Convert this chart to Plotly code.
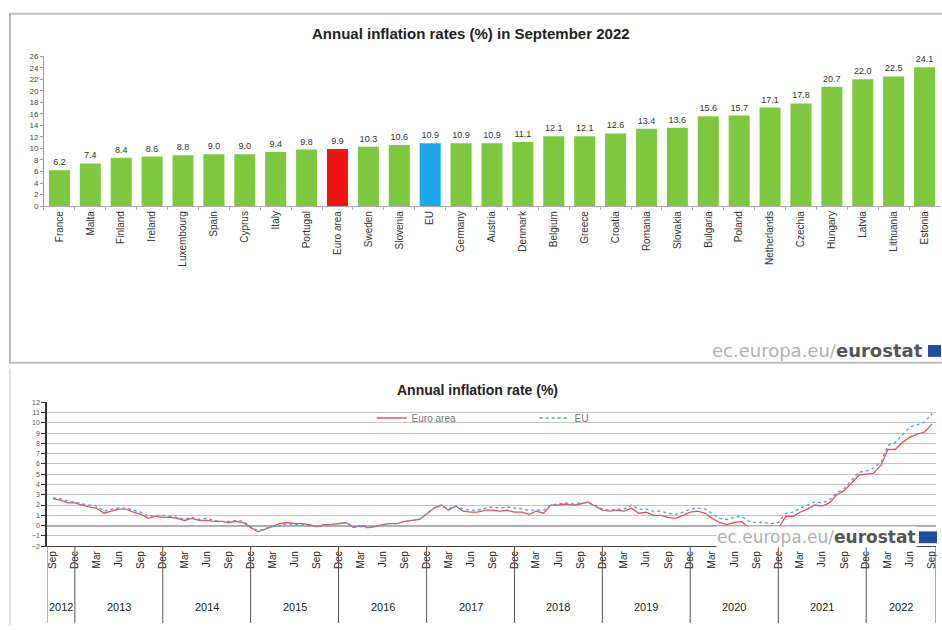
import plotly.graph_objects as go
import pandas as pd

# ---------------- data ----------------
countries = ["France", "Malta", "Finland", "Ireland", "Luxembourg", "Spain", "Cyprus", "Italy",
             "Portugal", "Euro area", "Sweden", "Slovenia", "EU", "Germany", "Austria", "Denmark",
             "Belgium", "Greece", "Croatia", "Romania", "Slovakia", "Bulgaria", "Poland",
             "Netherlands", "Czechia", "Hungary", "Latvia", "Lithuania", "Estonia"]
rates_sep2022 = [6.2, 7.4, 8.4, 8.6, 8.8, 9.0, 9.0, 9.4, 9.8, 9.9, 10.3, 10.6, 10.9, 10.9, 10.9,
                 11.1, 12.1, 12.1, 12.6, 13.4, 13.6, 15.6, 15.7, 17.1, 17.8, 20.7, 22.0, 22.5, 24.1]

months = pd.date_range("2012-09-01", "2022-09-01", freq="MS")
euro_area = [
    2.6, 2.5, 2.2, 2.2,
    2.0, 1.8, 1.7, 1.2, 1.4, 1.6, 1.6, 1.3, 1.1, 0.7, 0.9, 0.8,
    0.8, 0.7, 0.5, 0.7, 0.5, 0.5, 0.4, 0.4, 0.3, 0.4, 0.3, -0.2,
    -0.6, -0.3, -0.1, 0.2, 0.3, 0.2, 0.2, 0.1, -0.1, 0.1, 0.1, 0.2,
    0.3, -0.2, 0.0, -0.2, -0.1, 0.1, 0.2, 0.2, 0.4, 0.5, 0.6, 1.1,
    1.7, 2.0, 1.5, 1.9, 1.4, 1.3, 1.3, 1.5, 1.5, 1.4, 1.5, 1.3,
    1.3, 1.1, 1.4, 1.2, 2.0, 2.0, 2.1, 2.0, 2.1, 2.3, 1.9, 1.5,
    1.4, 1.5, 1.4, 1.7, 1.2, 1.3, 1.0, 1.0, 0.8, 0.7, 1.0, 1.3,
    1.4, 1.2, 0.7, 0.3, 0.1, 0.3, 0.4, -0.2, -0.3, -0.3, -0.3, -0.3,
    0.9, 0.9, 1.3, 1.6, 2.0, 1.9, 2.2, 3.0, 3.4, 4.1, 4.9, 5.0,
    5.1, 5.9, 7.4, 7.4, 8.1, 8.6, 8.9, 9.1, 9.9,
]
eu = [
    2.7, 2.6, 2.4, 2.3,
    2.1, 2.0, 1.9, 1.4, 1.6, 1.7, 1.7, 1.5, 1.3, 0.9, 1.0, 1.0,
    0.9, 0.8, 0.6, 0.8, 0.6, 0.7, 0.5, 0.4, 0.4, 0.5, 0.4, -0.1,
    -0.5, -0.3, -0.1, 0.0, 0.2, 0.1, 0.1, 0.0, -0.1, 0.0, 0.1, 0.2,
    0.3, -0.1, -0.1, -0.2, -0.1, 0.1, 0.2, 0.2, 0.4, 0.5, 0.6, 1.2,
    1.7, 2.0, 1.6, 1.9, 1.6, 1.5, 1.5, 1.7, 1.8, 1.7, 1.8, 1.7,
    1.6, 1.5, 1.5, 1.5, 2.0, 2.1, 2.2, 2.1, 2.2, 2.2, 2.0, 1.6,
    1.5, 1.6, 1.6, 2.0, 1.6, 1.6, 1.4, 1.4, 1.2, 1.1, 1.3, 1.6,
    1.7, 1.6, 1.2, 0.7, 0.6, 0.8, 0.9, 0.4, 0.3, 0.3, 0.2, 0.3,
    1.2, 1.3, 1.7, 2.0, 2.3, 2.2, 2.5, 3.2, 3.6, 4.4, 5.2, 5.3,
    5.6, 6.2, 7.8, 8.1, 8.8, 9.6, 9.8, 10.1, 10.9,
]
years = list(range(2012, 2023))

# ---------------- styling ----------------
W, H = 942, 630
GREEN, RED, BLUE = "#7DC83E", "#F01414", "#1EA8EC"
FONT = "Liberation Sans"


def py(px):
    return 1 - px / H


def pxx(px):
    return px / W


bar_colors = [RED if c == "Euro area" else BLUE if c == "EU" else GREEN for c in countries]

fig = go.Figure()
fig.add_trace(go.Bar(
    x=countries, y=rates_sep2022, marker_color=bar_colors, marker_line_width=0,
    texttemplate="%{y:.1f}", textposition="outside", cliponaxis=False,
    textfont=dict(size=9, color="#333", family=FONT),
    showlegend=False, xaxis="x", yaxis="y",
))
fig.add_trace(go.Scatter(
    x=months, y=euro_area, mode="lines", name="Euro area",
    line=dict(color="#E8505A", width=1.3), xaxis="x2", yaxis="y2",
))
fig.add_trace(go.Scatter(
    x=months, y=eu, mode="lines", name="EU",
    line=dict(color="#4A9FE0", width=1.3, dash="dot"), xaxis="x2", yaxis="y2",
))

x2_start = months[0] - pd.Timedelta(days=25)
x2_end = months[-1] + pd.Timedelta(days=16)

tick_months = months[::3]
tick_text = [d.strftime("%b") for d in tick_months]

fig.update_layout(
    width=W, height=H, margin=dict(l=0, r=0, t=0, b=0),
    paper_bgcolor="white", plot_bgcolor="white",
    font=dict(family=FONT, color="#333"),
    bargap=0.32,
    xaxis=dict(domain=[pxx(44), pxx(941)], anchor="y", type="category",
               tickangle=-90, tickfont=dict(size=10, color="#333"),
               showline=True, linecolor="#aaa", ticks="outside", tickson="boundaries",
               ticklen=3, tickcolor="#a9a9d9", showgrid=False),
    yaxis=dict(domain=[py(205), py(53)], anchor="x", range=[0, 26], dtick=2,
               tickfont=dict(size=8, color="#444"), showline=True, linecolor="#999",
               ticks="outside", ticklen=3, tickcolor="#999", showgrid=False, zeroline=False),
    xaxis2=dict(domain=[pxx(47), pxx(937)], anchor="y2", type="date",
                range=[x2_start, x2_end], tickvals=list(tick_months), ticktext=tick_text,
                tickangle=-90, tickfont=dict(size=10, color="#222"),
                showline=True, linecolor="#444", ticks="", showgrid=False),
    yaxis2=dict(domain=[py(550), py(404)], anchor="x2", range=[-2, 12], dtick=1,
                tickfont=dict(size=7, color="#555"), showline=True, linecolor="#333",
                linewidth=1.5, ticks="outside", ticklen=4, tickcolor="#333",
                showgrid=True, gridcolor="#C4C4C4", gridwidth=1,
                zeroline=True, zerolinecolor="#B0B0B0", zerolinewidth=2),
    legend=dict(orientation="h", x=pxx(372), y=py(420), xanchor="left", yanchor="middle",
                font=dict(size=10, color="#777"), bgcolor="rgba(0,0,0,0)",
                entrywidth=118, entrywidthmode="pixels"),
)

WM = "<span style='color:#B0B0B0'>ec.europa.eu/</span><b>eurostat</b>"
annotations = [
    dict(text="<b>Annual inflation rates (%) in September 2022</b>", x=pxx(472), y=py(30),
         xref="paper", yref="paper", xanchor="center", yanchor="middle",
         showarrow=False, font=dict(size=15, color="#222")),
    dict(text="<b>Annual inflation rate (%)</b>", x=pxx(478), y=py(392),
         xref="paper", yref="paper", xanchor="center", yanchor="middle",
         showarrow=False, font=dict(size=14, color="#222")),
    dict(text=WM, x=pxx(926), y=py(352), xref="paper", yref="paper", xanchor="right",
         yanchor="middle", showarrow=False,
         font=dict(size=18, color="#555", family="DejaVu Sans")),
    dict(text=WM, x=pxx(918), y=py(541), xref="paper", yref="paper", xanchor="right",
         yanchor="middle", showarrow=False, borderpad=0,
         font=dict(size=17, color="#555", family="DejaVu Sans"), bgcolor="white"),
]

shapes = [
    dict(type="rect", xref="paper", yref="paper", x0=pxx(10), x1=pxx(948), y0=py(364), y1=py(10),
         line=dict(color="#BDBDBD", width=2)),
    dict(type="line", xref="paper", yref="paper", x0=pxx(10), x1=pxx(10), y0=py(630), y1=py(370),
         line=dict(color="#D5D5D5", width=1.5)),
    dict(type="rect", xref="paper", yref="paper", x0=pxx(929), x1=pxx(942), y0=py(358), y1=py(346),
         fillcolor="#1F4E9E", line=dict(width=0)),
    dict(type="rect", xref="paper", yref="paper", x0=pxx(920), x1=pxx(938), y0=py(547), y1=py(535),
         fillcolor="#1F4E9E", line=dict(width=0)),
]

bounds = [x2_start] + [pd.Timestamp(f"{y}-12-01") for y in years[:-1]] + [x2_end]
for b in bounds:
    shapes.append(dict(type="line", xref="x2", yref="paper", x0=b, x1=b, y0=py(628), y1=py(550),
                       line=dict(color="#555", width=1)))
for i, y in enumerate(years):
    mid = bounds[i] + (bounds[i + 1] - bounds[i]) / 2
    annotations.append(dict(text=str(y), x=mid, y=py(612), xref="x2", yref="paper",
                            xanchor="center", yanchor="middle",
                            showarrow=False, font=dict(size=11, color="#222")))

fig.update_layout(annotations=annotations, shapes=shapes)
fig.write_html("out.html", config={"displayModeBar": False},
               post_script="document.body.style.margin='0';document.body.style.overflow='hidden';")
